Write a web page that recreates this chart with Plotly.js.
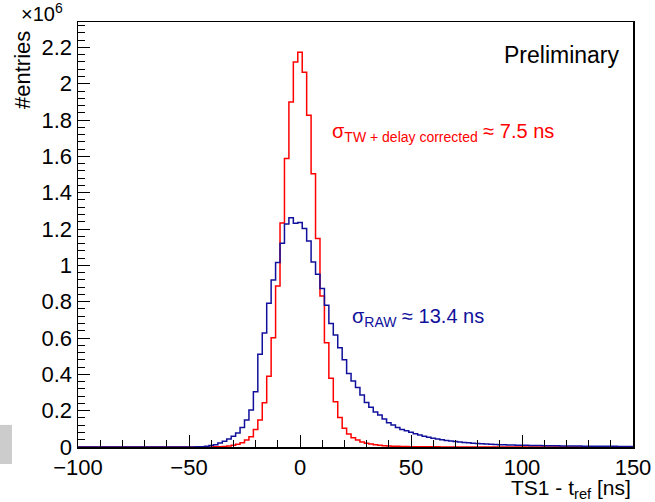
<!DOCTYPE html>
<html>
<head>
<meta charset="utf-8">
<script src="https://cdn.plot.ly/plotly-3.0.1.min.js"></script>
<style>html,body{margin:0;padding:0;background:#fff;}#chart{width:655px;height:502px;}</style>
</head>
<body>
<div id="chart"></div>
<script>
// Bin centres (ns), 2 ns wide bins
var binCenters = [-100,-98,-96,-94,-92,-90,-88,-86,-84,-82,-80,-78,-76,-74,-72,-70,-68,-66,-64,-62,
  -60,-58,-56,-54,-52,-50,-48,-46,-44,-42,-40,-38,-36,-34,-32,-30,-28,-26,-24,-22,
  -20,-18,-16,-14,-12,-10,-8,-6,-4,-2,0,2,4,6,8,10,12,14,16,18,
  20,22,24,26,28,30,32,34,36,38,40,42,44,46,48,50,52,54,56,58,
  60,62,64,66,68,70,72,74,76,78,80,82,84,86,88,90,92,94,96,98,
  100,102,104,106,108,110,112,114,116,118,120,122,124,126,128,130,132,134,136,138,
  140,142,144,146,148,150];

// Entries in units of 10^6 — TW + delay corrected (red)
var correctedEntries = [0,0,0,0,0,0,0,0,0,0,0,0,0,0,0,0,0,0,0,0,
  0,0,0,0,0,0,0,0,0,0,0.0005,0.001,0.002,0.003,0.005,0.009,0.015,0.024,0.039,0.057,
  0.097,0.149,0.244,0.39,0.601,0.886,1.234,1.588,1.90,2.12,2.174,2.064,1.826,1.505,1.148,0.831,0.574,0.378,0.249,0.163,
  0.103,0.072,0.051,0.039,0.028,0.021,0.016,0.012,0.009,0.007,0.0055,0.0045,0.0035,0.003,0.0025,0.002,0.0017,0.0014,0.0012,0.001,
  0.0008,0.0007,0.0006,0.0005,0.0004,0.0003,0.0003,0.0002,0.0002,0.0001,0.0001,0.0001,0,0,0,0,0,0,0,0,
  0,0,0,0,0,0,0,0,0,0,0,0,0,0,0,0,0,0,0,0,
  0,0,0,0,0,0];

// Entries in units of 10^6 — RAW (blue)
var rawEntries = [0,0,0,0,0,0,0,0,0,0,0,0,0,0,0,0,0,0,0,0,
  0,0,0,0,0,0,0.0005,0.001,0.002,0.004,0.008,0.013,0.022,0.031,0.044,0.059,0.077,0.108,0.149,0.204,
  0.304,0.51,0.627,0.792,0.919,1.016,1.122,1.228,1.262,1.232,1.236,1.203,1.134,1.019,0.951,0.873,0.781,0.680,0.616,0.546,
  0.481,0.405,0.364,0.328,0.286,0.245,0.219,0.193,0.176,0.154,0.134,0.121,0.108,0.097,0.090,0.081,0.073,0.066,0.059,0.053,
  0.048,0.044,0.040,0.036,0.033,0.030,0.027,0.025,0.023,0.021,0.019,0.018,0.016,0.015,0.014,0.013,0.012,0.011,0.0105,0.010,
  0.0095,0.009,0.0085,0.008,0.0077,0.0074,0.007,0.0067,0.0064,0.006,0.0057,0.0054,0.0052,0.005,0.0048,0.0046,0.0044,0.0042,0.004,0.0038,
  0.0036,0.0035,0.0034,0.0033,0.0032,0.003];

var binWidth = 2;

function stepXY(centers, values) {
  var xs = [], ys = [];
  for (var i = 0; i < centers.length; i++) {
    xs.push(centers[i] - binWidth / 2);
    ys.push(values[i]);
  }
  xs.push(centers[centers.length - 1] + binWidth / 2);
  ys.push(values[values.length - 1]);
  return {x: xs, y: ys};
}

var red = stepXY(binCenters, correctedEntries);
var blue = stepXY(binCenters, rawEntries);

var FONT = 'Liberation Sans, Arial, Helvetica, sans-serif';
var BLUE = '#10109c';

var traces = [
  {x: red.x, y: red.y, type: 'scatter', mode: 'lines', line: {shape: 'hv', color: '#ff0000', width: 1.5}, hoverinfo: 'skip'},
  {x: blue.x, y: blue.y, type: 'scatter', mode: 'lines', line: {shape: 'hv', color: BLUE, width: 1.5}, hoverinfo: 'skip'}
];

var layout = {
  width: 655, height: 502,
  margin: {l: 78, r: 22, t: 22, b: 55, pad: 0},
  paper_bgcolor: '#ffffff', plot_bgcolor: '#ffffff',
  showlegend: false,
  font: {family: FONT, size: 22, color: '#000'},
  xaxis: {
    range: [-100, 150], dtick: 50, tick0: 0,
    ticks: 'inside', ticklen: 12, tickwidth: 1, tickcolor: '#000',
    minor: {dtick: 10, ticks: 'inside', ticklen: 7, tickwidth: 1, tickcolor: '#000'},
    showgrid: false, zeroline: false,
    showline: true, linecolor: '#000', linewidth: 1.5, mirror: true,
    tickfont: {family: FONT, size: 22, color: '#000'}
  },
  yaxis: {
    range: [0, 2.34], dtick: 0.2, tick0: 0,
    ticks: 'inside', ticklen: 12, tickwidth: 1, tickcolor: '#000',
    minor: {dtick: 0.04, ticks: 'inside', ticklen: 7, tickwidth: 1, tickcolor: '#000'},
    showgrid: false, zeroline: false,
    showline: true, linecolor: '#000', linewidth: 1.5, mirror: true,
    tickfont: {family: FONT, size: 22, color: '#000'}
  },
  shapes: [
    {type: 'rect', xref: 'paper', yref: 'paper', x0: -0.1405, x1: -0.119, y0: -0.04, y1: 0.052,
     fillcolor: '#cccccc', line: {width: 0}}
  ],
  annotations: [
    {xref: 'paper', yref: 'paper', x: -0.065, y: 1.022, xanchor: 'center', yanchor: 'middle', showarrow: false,
     text: '×10<sup>6</sup>', font: {family: FONT, size: 20}},
    {xref: 'paper', yref: 'paper', x: -0.101, y: 0.887, xanchor: 'center', yanchor: 'middle', showarrow: false,
     textangle: -90, text: '#entries', font: {family: FONT, size: 22}},
    {xref: 'paper', yref: 'paper', x: 1.0, y: -0.099, xanchor: 'right', yanchor: 'middle', showarrow: false,
     text: 'TS1 - t<sub>ref</sub> [ns]', font: {family: FONT, size: 21}},
    {xref: 'paper', yref: 'paper', x: 0.98, y: 0.922, xanchor: 'right', yanchor: 'middle', showarrow: false,
     text: 'Preliminary', font: {family: FONT, size: 23}},
    {xref: 'paper', yref: 'paper', x: 0.454, y: 0.74, xanchor: 'left', yanchor: 'middle', showarrow: false,
     text: 'σ<sub>TW + delay corrected</sub> ≈ 7.5 ns', font: {family: FONT, size: 20, color: '#ff0000'}},
    {xref: 'paper', yref: 'paper', x: 0.49, y: 0.305, xanchor: 'left', yanchor: 'middle', showarrow: false,
     text: 'σ<sub>RAW</sub> ≈ 13.4 ns', font: {family: FONT, size: 20, color: BLUE}}
  ]
};

Plotly.newPlot('chart', traces, layout, {staticPlot: true, displayModeBar: false});
</script>
</body>
</html>
